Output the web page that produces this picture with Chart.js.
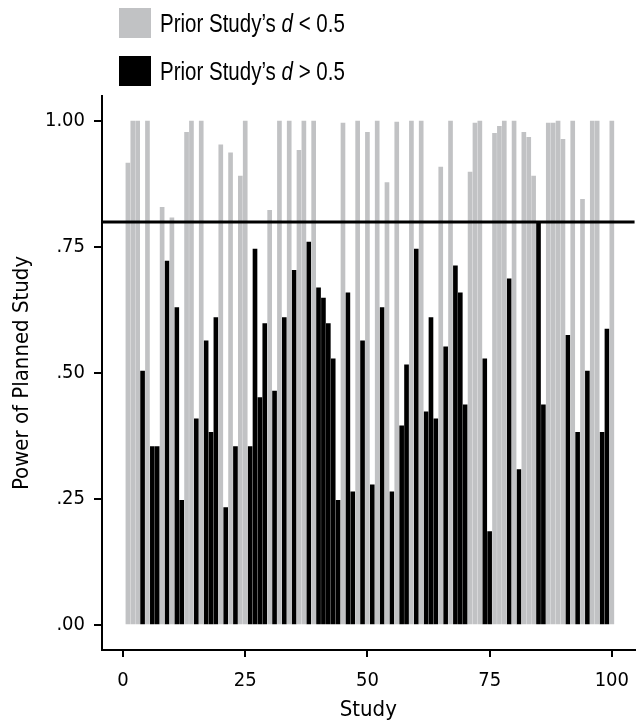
<!DOCTYPE html>
<html lang="en">
<head>
    <meta charset="UTF-8">
    <title>Power of Planned Study</title>
    <style>
        html, body { margin: 0; padding: 0; background: #fff; }
        body { width: 641px; height: 724px; overflow: hidden; }
        .wrap { position: relative; width: 641px; height: 724px; }
        .legend { position: absolute; left: 119px; color: #000; }
        .legend .box { position: absolute; left: 0; top: 0; width: 32px; height: 30px; }
        .legend .label {
            position: absolute; left: 41px; top: 0; height: 30px; line-height: 30px; white-space: nowrap;
            font-family: 'Liberation Sans', Arial, sans-serif; font-size: 25px;
            transform: scaleX(0.82); transform-origin: left center;
        }
        canvas { position: absolute; left: 0; top: 0; }
    </style>
</head>
<body>
<div class="wrap">
    <canvas id="myChart" width="641" height="724"></canvas>
    <div class="legend" style="top: 8px;">
        <div class="box" style="background: #c1c2c4;"></div>
        <div class="label">Prior Study’s <i>d</i> &lt; 0.5</div>
    </div>
    <div class="legend" style="top: 56px;">
        <div class="box" style="background: #000;"></div>
        <div class="label">Prior Study’s <i>d</i> &gt; 0.5</div>
    </div>
</div>

<script src="https://cdn.jsdelivr.net/npm/chart.js@4.4.1/dist/chart.umd.min.js"></script>
<script>
    // power of each planned study, study 1..100
    var powerValues = [
        0.917, 1.00, 1.00, 0.504, 1.00, 0.354, 0.354, 0.829, 0.722, 0.808,
        0.630, 0.247, 0.978, 1.00, 0.409, 1.00, 0.564, 0.382, 0.610, 0.953,
        0.233, 0.937, 0.354, 0.891, 1.00, 0.354, 0.746, 0.451, 0.598, 0.823,
        0.464, 1.00, 0.610, 1.00, 0.704, 0.942, 1.00, 0.760, 1.00, 0.669,
        0.649, 0.598, 0.528, 0.247, 0.996, 0.659, 0.264, 1.00, 0.564, 0.978,
        0.278, 1.00, 0.630, 0.878, 0.264, 0.998, 0.395, 0.516, 1.00, 0.746,
        1.00, 0.423, 0.610, 0.409, 0.909, 0.552, 1.00, 0.713, 0.659, 0.437,
        0.899, 0.996, 1.00, 0.528, 0.185, 0.976, 0.990, 1.00, 0.687, 1.00,
        0.308, 0.978, 0.968, 0.891, 0.800, 0.437, 0.996, 0.996, 1.00, 0.964,
        0.575, 1.00, 0.382, 0.845, 0.504, 1.00, 1.00, 0.382, 0.587, 1.00
    ];
    // 1 = prior study's d > 0.5 (black), 0 = d < 0.5 (gray)
    var priorLarge = [
        0, 0, 0, 1, 0, 1, 1, 0, 1, 0,
        1, 1, 0, 0, 1, 0, 1, 1, 1, 0,
        1, 0, 1, 0, 0, 1, 1, 1, 1, 0,
        1, 0, 1, 0, 1, 0, 0, 1, 0, 1,
        1, 1, 1, 1, 0, 1, 1, 0, 1, 0,
        1, 0, 1, 0, 1, 0, 1, 1, 0, 1,
        0, 1, 1, 1, 0, 1, 0, 1, 1, 1,
        0, 0, 0, 1, 1, 0, 0, 0, 1, 0,
        1, 0, 0, 0, 1, 1, 0, 0, 0, 0,
        1, 0, 1, 0, 1, 0, 0, 1, 1, 0
    ];
    var xTicks = [0, 25, 50, 75, 100];
    var yTicks = [0, 0.25, 0.5, 0.75, 1];
    var targetPower = 0.8;

    var grayColor = '#c1c2c4';
    var fontFamily = "'Liberation Sans Narrow', 'Arial Narrow', 'DejaVu Sans Condensed', sans-serif";

    var lowPoints = [];
    var highPoints = [];
    for (var i = 0; i < powerValues.length; i++) {
        var pt = { x: i + 1, y: powerValues[i] };
        if (priorLarge[i]) highPoints.push(pt); else lowPoints.push(pt);
    }

    // horizontal line at the .80 power level
    var targetLine = {
        id: 'targetLine',
        afterDatasetsDraw: function(chart) {
            var area = chart.chartArea;
            var y = chart.scales.y.getPixelForValue(targetPower);
            var ctx = chart.ctx;
            ctx.save();
            ctx.strokeStyle = '#000';
            ctx.lineWidth = 3;
            ctx.beginPath();
            ctx.moveTo(area.left, y);
            ctx.lineTo(area.right, y);
            ctx.stroke();
            ctx.restore();
        }
    };

    var ctx = document.getElementById('myChart').getContext('2d');
    var myChart = new Chart(ctx, {
        type: 'bar',
        data: {
            datasets: [
                { label: 'Prior Study’s d < 0.5', data: lowPoints, backgroundColor: grayColor, barThickness: 4, grouped: false },
                { label: 'Prior Study’s d > 0.5', data: highPoints, backgroundColor: '#000', barThickness: 4, grouped: false }
            ]
        },
        options: {
            responsive: false,
            animation: false,
            layout: { padding: { top: 96, left: 0, right: 0, bottom: 0 } },
            plugins: {
                legend: { display: false },
                tooltip: { enabled: false }
            },
            scales: {
                x: {
                    type: 'linear',
                    offset: false,
                    min: -4.3,
                    max: 104.65,
                    afterBuildTicks: function(scale) {
                        scale.ticks = xTicks.map(function(v) { return { value: v }; });
                    },
                    afterFit: function(scale) { scale.height = 74; },
                    grid: { drawOnChartArea: false, offset: false, color: '#000', lineWidth: 2, tickLength: 7 },
                    border: { display: true, color: '#000', width: 2 },
                    ticks: { color: '#000', padding: 12, maxRotation: 0, font: { family: fontFamily, size: 20 } },
                    title: { display: true, text: 'Study', color: '#000', padding: { top: 0, bottom: 1 }, font: { family: fontFamily, size: 22 } }
                },
                y: {
                    type: 'linear',
                    min: -0.05,
                    max: 1.05,
                    afterBuildTicks: function(scale) {
                        scale.ticks = yTicks.map(function(v) { return { value: v }; });
                    },
                    afterFit: function(scale) { scale.width = 102; },
                    grid: { drawOnChartArea: false, color: '#000', lineWidth: 2, tickLength: 8 },
                    border: { display: true, color: '#000', width: 2 },
                    ticks: {
                        color: '#000',
                        padding: 9,
                        font: { family: fontFamily, size: 20 },
                        callback: function(v) { return v.toFixed(2).replace(/^0/, ''); }
                    },
                    title: { display: true, text: 'Power of Planned Study', color: '#000', padding: { top: 9, bottom: 0 }, font: { family: fontFamily, size: 22 } }
                }
            }
        },
        plugins: [targetLine]
    });
</script>
</body>
</html>
